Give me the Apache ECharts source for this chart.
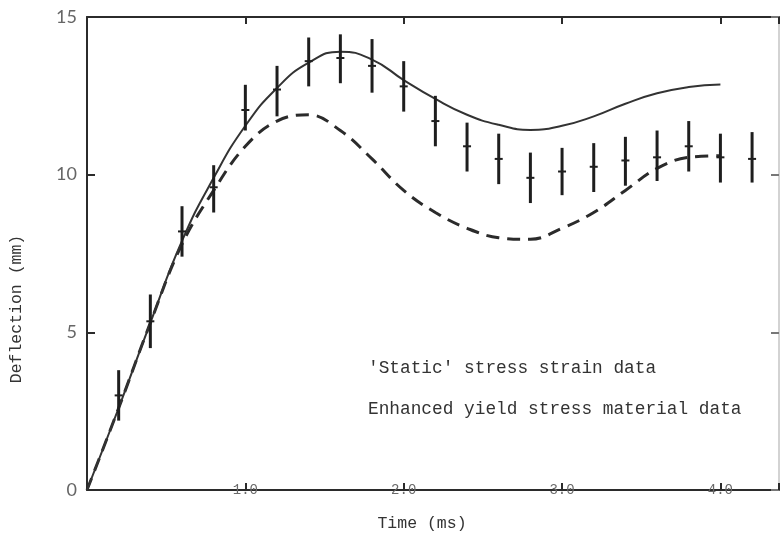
<!DOCTYPE html>
<html>
<head>
<meta charset="utf-8">
<script src="https://cdn.jsdelivr.net/npm/echarts@6/dist/echarts.min.js"></script>
<style>
  html, body { margin: 0; padding: 0; background: #fff; }
  #chart { width: 783px; height: 538px; }
</style>
</head>
<body>
<div id="chart"></div>
<script>
// curve samples (ms, mm)
const curveTimes = [0, 0.2, 0.4, 0.6, 0.8, 1.0, 1.2, 1.4, 1.6, 1.8, 2.0, 2.2, 2.4, 2.6, 2.8, 3.0, 3.2, 3.4, 3.6, 3.8, 4.0]
const staticCurve = [0, 2.6, 5.3, 7.9, 9.9, 11.55, 12.75, 13.55, 13.9, 13.65, 13.0, 12.4, 11.9, 11.58, 11.42, 11.55, 11.85, 12.25, 12.58, 12.78, 12.86]
const enhancedCurve = [0, 2.6, 5.3, 7.8, 9.5, 10.9, 11.7, 11.9, 11.4, 10.5, 9.5, 8.8, 8.3, 8.0, 7.95, 8.3, 8.8, 9.5, 10.2, 10.55, 10.6]

// measured points with error bars
const barTimes = [0.2, 0.4, 0.6, 0.8, 1.0, 1.2, 1.4, 1.6, 1.8, 2.0, 2.2, 2.4, 2.6, 2.8, 3.0, 3.2, 3.4, 3.6, 3.8, 4.0, 4.2]
const barMeans = [3.0, 5.35, 8.2, 9.6, 12.05, 12.7, 13.6, 13.7, 13.45, 12.8, 11.7, 10.9, 10.5, 9.9, 10.1, 10.25, 10.45, 10.55, 10.9, 10.55, 10.5]
const barLow = [2.2, 4.5, 7.4, 8.8, 11.4, 11.85, 12.8, 12.9, 12.6, 12.0, 10.9, 10.1, 9.7, 9.1, 9.35, 9.45, 9.65, 9.8, 10.1, 9.75, 9.75]
const barHigh = [3.8, 6.2, 9.0, 10.3, 12.85, 13.45, 14.35, 14.45, 14.3, 13.6, 12.5, 11.65, 11.3, 10.7, 10.85, 11.0, 11.2, 11.4, 11.7, 11.3, 11.35]

const xTicks = [1, 2, 3, 4]
const legendLabels = ["'Static' stress strain data", 'Enhanced yield stress material data']
const xTitle = 'Time (ms)'
const yTitle = 'Deflection (mm)'

const mono = '"Liberation Mono", "DejaVu Sans Mono", monospace'
const ink = '#2b2b2b'

const chart = echarts.init(document.getElementById('chart'))

const pairs = (xs, ys) => xs.map((x, i) => [x, ys[i]])
const barData = barTimes.map((t, i) => [t, barMeans[i], barLow[i], barHigh[i]])

const option = {
  animation: false,
  grid: { left: 87, right: 4, top: 17, bottom: 48 },
  xAxis: [
    {
      type: 'value',
      min: 0,
      max: 4.37,
      interval: 1,
      axisLine: { show: true, onZero: false, lineStyle: { color: ink, width: 2 } },
      axisTick: { show: true, inside: true, length: 7, lineStyle: { color: ink, width: 2 } },
      axisLabel: {
        margin: -7,
        fontFamily: mono,
        fontSize: 14,
        color: '#6a6a6a',
        formatter: v => (xTicks.indexOf(v) >= 0 ? v.toFixed(1) : '')
      },
      splitLine: { show: false }
    },
    {
      type: 'value',
      position: 'top',
      min: 0,
      max: 4.37,
      interval: 1,
      axisLine: { show: true, onZero: false, lineStyle: { color: ink, width: 2 } },
      axisTick: { show: true, inside: true, length: 7, lineStyle: { color: ink, width: 2 } },
      axisLabel: { show: false },
      splitLine: { show: false }
    }
  ],
  yAxis: [
    {
      type: 'value',
      min: 0,
      max: 15,
      interval: 5,
      axisLine: { show: true, onZero: false, lineStyle: { color: ink, width: 2 } },
      axisTick: { show: true, inside: true, length: 8, lineStyle: { color: ink, width: 2 } },
      axisLabel: { margin: 10, fontFamily: 'Lato, "DejaVu Sans", sans-serif', fontSize: 18, color: '#666' },
      splitLine: { show: false }
    },
    {
      type: 'value',
      position: 'right',
      min: 0,
      max: 15,
      interval: 5,
      axisLine: { show: true, onZero: false, lineStyle: { color: '#c4c4c4', width: 1.5 } },
      axisTick: { show: true, inside: true, length: 8, lineStyle: { color: '#777', width: 2 } },
      axisLabel: { show: false },
      splitLine: { show: false }
    }
  ],
  series: [
    {
      name: legendLabels[1],
      type: 'line',
      data: pairs(curveTimes, enhancedCurve),
      smooth: 0.4,
      showSymbol: false,
      lineStyle: { color: ink, width: 3, type: [13, 8] },
      z: 2
    },
    {
      name: legendLabels[0],
      type: 'line',
      data: pairs(curveTimes, staticCurve),
      smooth: 0.5,
      showSymbol: false,
      lineStyle: { color: '#333', width: 2 },
      z: 3
    },
    {
      name: 'Measured',
      type: 'custom',
      data: barData,
      encode: { x: 0, y: [1, 2, 3] },
      z: 4,
      renderItem: (params, api) => {
        const x = api.value(0)
        const mid = api.coord([x, api.value(1)])
        const lo = api.coord([x, api.value(2)])
        const hi = api.coord([x, api.value(3)])
        return {
          type: 'group',
          children: [
            {
              type: 'line',
              shape: { x1: lo[0], y1: lo[1], x2: hi[0], y2: hi[1] },
              style: { stroke: '#1e1e1e', lineWidth: 3 }
            },
            {
              type: 'line',
              shape: { x1: mid[0] - 4, y1: mid[1], x2: mid[0] + 4, y2: mid[1] },
              style: { stroke: '#1e1e1e', lineWidth: 2 }
            }
          ]
        }
      }
    }
  ],
  graphic: [
    {
      type: 'text',
      left: 368,
      top: 359,
      style: { text: legendLabels[0], font: '17.8px ' + mono, fill: '#333' }
    },
    {
      type: 'text',
      left: 368,
      top: 400,
      style: { text: legendLabels[1], font: '17.8px ' + mono, fill: '#333' }
    },
    {
      type: 'text',
      x: 422,
      y: 524,
      style: { text: xTitle, font: '16.5px ' + mono, fill: '#333', align: 'center', verticalAlign: 'middle' }
    },
    {
      type: 'text',
      x: 17,
      y: 309,
      rotation: Math.PI / 2,
      style: { text: yTitle, font: '16.5px ' + mono, fill: '#333', align: 'center', verticalAlign: 'middle' }
    }
  ]
}

chart.setOption(option)
</script>
</body>
</html>
